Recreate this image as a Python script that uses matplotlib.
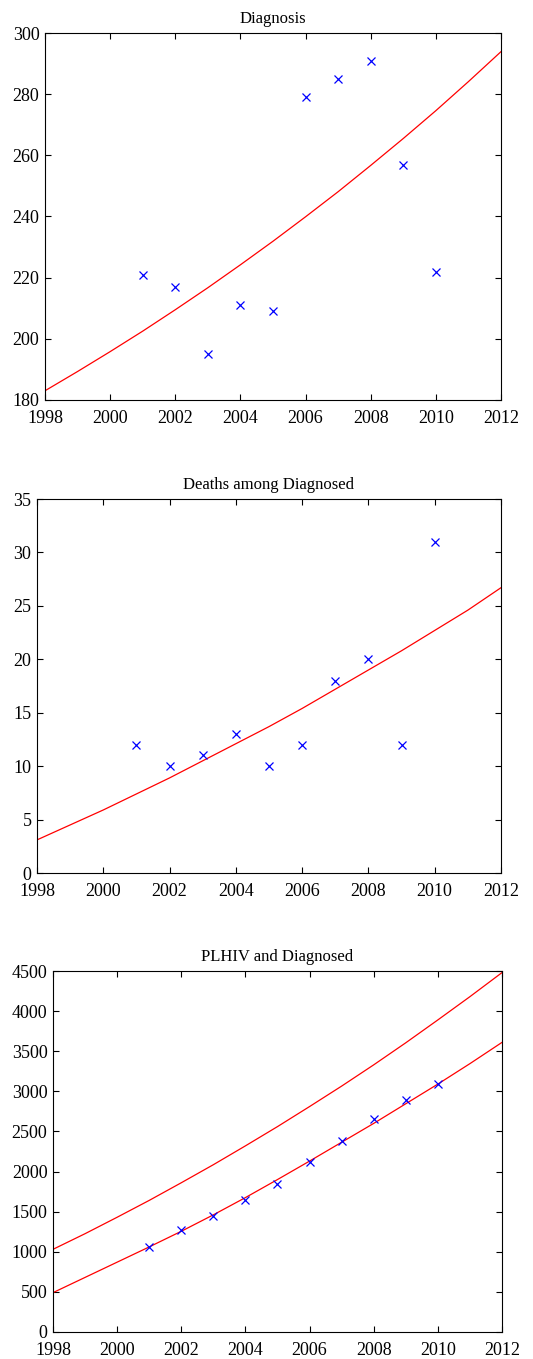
import matplotlib
matplotlib.use("Agg")
import matplotlib.pyplot as plt

plt.rcParams['font.family'] = ['Liberation Serif', 'DejaVu Serif']

# observed years
years = [2001, 2002, 2003, 2004, 2005, 2006, 2007, 2008, 2009, 2010]
# fitted curve sample years
fit_years = list(range(1998, 2013))

diag_obs = [221, 217, 195, 211, 209, 279, 285, 291, 257, 222]
diag_fit = [183, 189.3, 195.8, 202.5, 209.5, 216.7, 224.2, 231.9, 239.9, 248.1,
            256.7, 265.5, 274.6, 284.1, 293.9]

deaths_obs = [12, 10, 11, 13, 10, 12, 18, 20, 12, 31]
deaths_fit = [3.1, 4.5, 5.9, 7.4, 8.9, 10.5, 12.1, 13.7, 15.4, 17.2, 19.0, 20.8, 22.7, 24.6, 26.7]

plhiv_fit = [1030, 1225, 1430, 1640, 1860, 2085, 2320, 2560, 2810, 3065, 3330, 3605, 3890, 4180, 4480]
dx_fit = [490, 680, 870, 1060, 1255, 1460, 1675, 1900, 2130, 2365, 2600, 2845, 3090, 3345, 3610]
dx_obs = [1060, 1270, 1450, 1650, 1850, 2115, 2380, 2655, 2895, 3090]

xticks = [1998, 2000, 2002, 2004, 2006, 2008, 2010, 2012]

fig = plt.figure(figsize=(5.33, 13.59), dpi=100)


def style(ax, title, ylim, yticks):
    ax.set_xlim(1998, 2012)
    ax.set_ylim(*ylim)
    ax.set_xticks(xticks)
    ax.set_yticks(yticks)
    ax.tick_params(direction='in', top=True, right=True, length=4, width=0.8,
                   labelsize=13)
    ax.tick_params(axis='x', pad=7)
    ax.tick_params(axis='y', pad=4)
    for s in ax.spines.values():
        s.set_linewidth(0.8)
    ax.set_title(title, fontsize=12, pad=7)


ax1 = fig.add_axes([0.0844, 0.7057, 0.8555, 0.270])
ax1.plot(fit_years, diag_fit, color='red', lw=0.9)
ax1.plot(years, diag_obs, 'x', color='blue', ms=6, mew=0.9)
style(ax1, 'Diagnosis', (180, 300), range(180, 301, 20))

ax2 = fig.add_axes([0.0694, 0.3576, 0.8705, 0.2752])
ax2.plot(fit_years, deaths_fit, color='red', lw=0.9)
ax2.plot(years, deaths_obs, 'x', color='blue', ms=6, mew=0.9)
style(ax2, 'Deaths among Diagnosed', (0, 35), range(0, 36, 5))

ax3 = fig.add_axes([0.0994, 0.0199, 0.8424, 0.2656])
ax3.plot(fit_years, plhiv_fit, color='red', lw=0.9)
ax3.plot(fit_years, dx_fit, color='red', lw=0.9)
ax3.plot(years, dx_obs, 'x', color='blue', ms=6, mew=0.9)
style(ax3, 'PLHIV and Diagnosed', (0, 4500), range(0, 4501, 500))

fig.savefig('out.png', dpi=100)
